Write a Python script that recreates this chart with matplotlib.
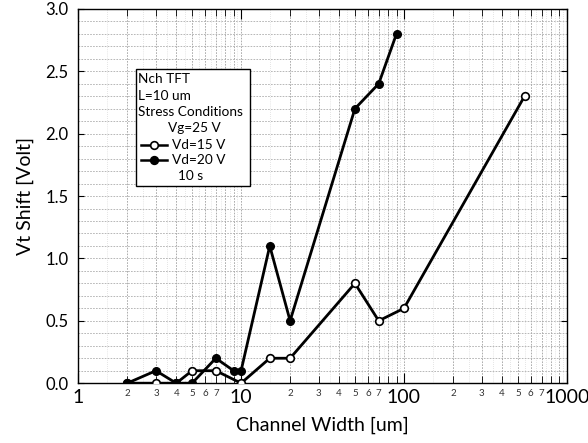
import numpy as np
import matplotlib.pyplot as plt
from matplotlib.lines import Line2D
from matplotlib.patches import Rectangle
from matplotlib.ticker import FixedLocator, NullFormatter

plt.rcParams['font.family'] = ['Lato', 'DejaVu Sans']

# Vt shift vs. channel width, Nch TFT, L=10 um
w_vd15 = [2, 3, 4, 5, 7, 10, 15, 20, 50, 70, 100, 550]
vt_vd15 = [0.0, 0.0, 0.0, 0.1, 0.1, 0.0, 0.2, 0.2, 0.8, 0.5, 0.6, 2.3]

w_vd20 = [2, 3, 4, 5, 7, 9, 10, 15, 20, 50, 70, 90]
vt_vd20 = [0.0, 0.1, 0.0, 0.0, 0.2, 0.1, 0.1, 1.1, 0.5, 2.2, 2.4, 2.8]

y_ticks = [0.0, 0.5, 1.0, 1.5, 2.0, 2.5, 3.0]
x_major = [1, 10, 100, 1000]
minor_labels = ['2', '3', '4', '5', '6', '7']

fig = plt.figure(figsize=(5.88, 4.43), dpi=100)
ax = fig.add_axes([0.133, 0.135, 0.831, 0.845])

ax.set_xscale('log')
ax.set_xlim(1, 1000)
ax.set_ylim(0, 3.0)

# grid: integer multiples per decade + half steps, and 0.1 V rows
decades = [1, 10, 100]
whole = [d * k for d in decades for k in range(1, 10)]
halves = [d * (k + 0.5) for d in decades for k in range(1, 10)]
for xv in whole:
    ax.axvline(xv, color='#a0a0a0', lw=0.6, ls=(0, (2, 1.5)), zorder=0)
for xv in halves:
    ax.axvline(xv, color='#cccccc', lw=0.5, ls=(0, (1, 2)), zorder=0)
for yv in np.arange(0.1, 3.0, 0.1):
    ax.axhline(yv, color='#acacac', lw=0.6, ls=(0, (2, 1.5)), zorder=0)

ax.plot(w_vd15, vt_vd15, color='black', lw=2.0, marker='o', ms=5.5,
        mfc='white', mec='black', mew=1.2, zorder=3)
ax.plot(w_vd20, vt_vd20, color='black', lw=2.0, marker='o', ms=5.5,
        mfc='black', mec='black', zorder=3)

ax.set_yticks(y_ticks)
ax.set_yticklabels(['%.1f' % v for v in y_ticks], fontsize=12)
ax.xaxis.set_major_locator(FixedLocator(x_major))
ax.set_xticklabels([str(v) for v in x_major], fontsize=14)
minors = [d * k for d in decades for k in range(2, 10)]
ax.xaxis.set_minor_locator(FixedLocator(minors))
ax.xaxis.set_minor_formatter(NullFormatter())
ax.tick_params(axis='both', which='both', direction='in', top=True, right=True)
ax.tick_params(axis='x', which='major', length=7, pad=4)
ax.tick_params(axis='x', which='minor', length=5)
ax.tick_params(axis='y', which='major', length=4, pad=7)

# small labels under the minor ticks
for d in decades:
    for k, lab in zip(range(2, 8), minor_labels):
        ax.text(d * k, -0.015, lab, transform=ax.get_xaxis_transform(),
                ha='center', va='top', fontsize=7, color='#333333')

ax.set_xlabel('Channel Width [um]', fontsize=14, labelpad=8)
ax.set_ylabel('Vt Shift [Volt]', fontsize=14, labelpad=8)

for s in ax.spines.values():
    s.set_linewidth(1.0)

# condition box
def px(x, y):
    return ((x - 78) / 489.0, (383 - y) / 374.0)

x0, y0 = px(136, 186)
x1, y1 = px(250, 69)
ax.add_patch(Rectangle((x0, y0), x1 - x0, y1 - y0, transform=ax.transAxes,
                       facecolor='white', edgecolor='black', lw=1.0, zorder=5))

box_lines = [(138, 79, 'Nch TFT'), (138, 96, 'L=10 um'),
             (138, 112, 'Stress Conditions'), (168, 128, 'Vg=25 V'),
             (172, 145, 'Vd=15 V'), (172, 160, 'Vd=20 V'), (178, 176, '10 s')]
for bx, by, txt in box_lines:
    tx, ty = px(bx, by)
    ax.text(tx, ty, txt, transform=ax.transAxes, fontsize=9.8,
            ha='left', va='center', zorder=6)

for by, face in [(145, 'white'), (160, 'black')]:
    lx0, ly = px(141, by)
    lx1, _ = px(167, by)
    ax.add_line(Line2D([lx0, lx1], [ly, ly], transform=ax.transAxes,
                       color='black', lw=1.8, zorder=6))
    mx, _ = px(154, by)
    ax.add_line(Line2D([mx], [ly], transform=ax.transAxes, marker='o', ms=5.5,
                       mfc=face, mec='black', mew=1.2, zorder=7))

fig.savefig('out.png', dpi=100)
